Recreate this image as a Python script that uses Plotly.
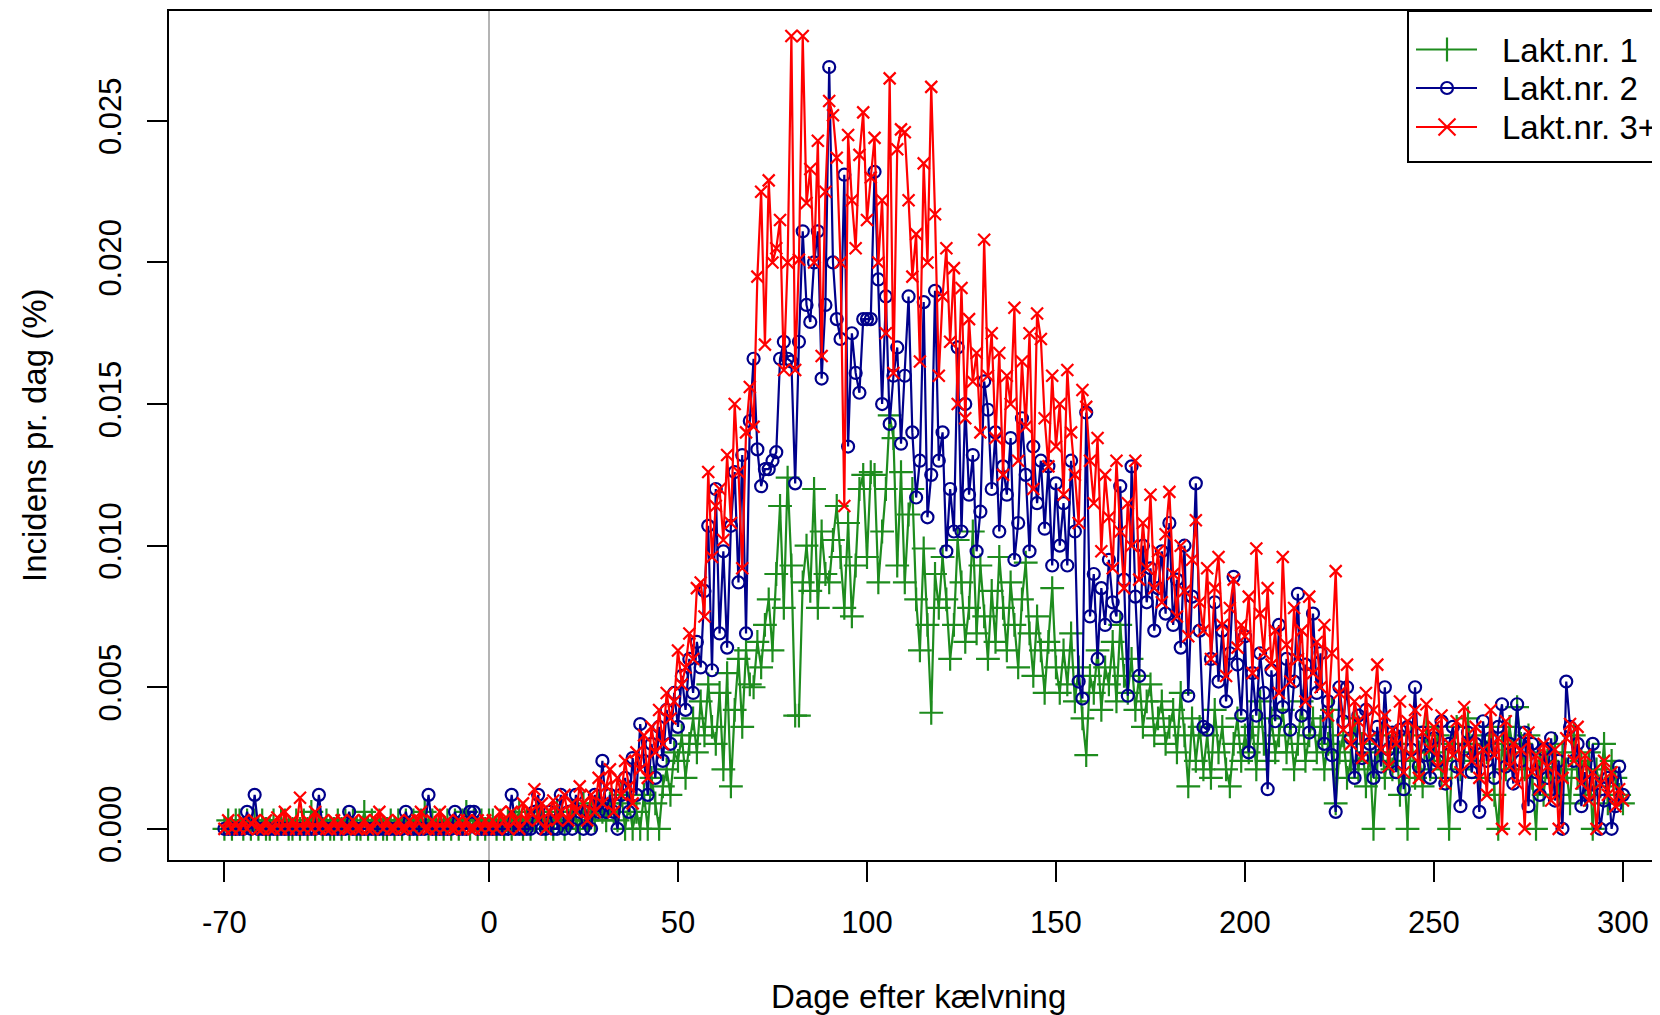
import plotly.graph_objects as go

# ---------------- data (incidence per day, %) ----------------
days = list(range(-70, 301))

lakt1 = [
    0.0000,0.0003,0.0000,0.0003,0.0003,0.0000,0.0003,0.0000,0.0003,0.0000,
    0.0003,0.0000,0.0000,0.0003,0.0000,0.0003,0.0003,0.0000,0.0000,0.0003,
    0.0000,0.0003,0.0000,0.0006,0.0000,0.0003,0.0000,0.0003,0.0000,0.0000,
    0.0003,0.0000,0.0003,0.0000,0.0003,0.0000,0.0000,0.0006,0.0000,0.0003,
    0.0000,0.0003,0.0000,0.0000,0.0003,0.0000,0.0003,0.0000,0.0003,0.0000,
    0.0003,0.0000,0.0003,0.0006,0.0000,0.0003,0.0000,0.0003,0.0000,0.0003,
    0.0000,0.0003,0.0000,0.0003,0.0006,0.0000,0.0003,0.0000,0.0003,0.0000,
    0.0003,0.0003,0.0000,0.0003,0.0000,0.0003,0.0000,0.0003,0.0006,0.0000,
    0.0003,0.0000,0.0003,0.0006,0.0003,0.0000,0.0003,0.0000,0.0006,0.0003,
    0.0000,0.0003,0.0006,0.0003,0.0000,0.0009,0.0003,0.0006,0.0003,0.0009,
    0.0006,0.0003,0.0009,0.0006,0.0003,0.0012,0.0000,0.0009,0.0000,0.0006,
    0.0000,0.0012,0.0000,0.0018,0.0009,0.0000,0.0015,0.0021,0.0012,0.0027,
    0.0024,0.0033,0.0018,0.0030,0.0039,0.0027,0.0045,0.0033,0.0051,0.0036,
    0.0030,0.0048,0.0021,0.0055,0.0015,0.0042,0.0060,0.0036,0.0063,0.0051,
    0.0050,0.0066,0.0057,0.0072,0.0081,0.0063,0.0090,0.0114,0.0078,0.0124,
    0.0093,0.0040,0.0040,0.0087,0.0100,0.0084,0.0120,0.0078,0.0105,0.0090,
    0.0087,0.0102,0.0114,0.0096,0.0078,0.0108,0.0075,0.0093,0.0120,0.0125,
    0.0096,0.0126,0.0125,0.0087,0.0105,0.0120,0.0146,0.0138,0.0093,0.0126,
    0.0087,0.0111,0.0120,0.0081,0.0063,0.0099,0.0072,0.0041,0.0090,0.0078,
    0.0096,0.0081,0.0060,0.0072,0.0102,0.0087,0.0066,0.0078,0.0105,0.0069,
    0.0093,0.0075,0.0060,0.0084,0.0066,0.0096,0.0078,0.0063,0.0087,0.0072,
    0.0057,0.0081,0.0094,0.0069,0.0054,0.0075,0.0063,0.0048,0.0066,0.0085,
    0.0057,0.0048,0.0063,0.0051,0.0069,0.0045,0.0057,0.0039,0.0026,0.0054,
    0.0048,0.0063,0.0042,0.0057,0.0051,0.0066,0.0045,0.0072,0.0054,0.0048,
    0.0060,0.0042,0.0054,0.0036,0.0045,0.0051,0.0033,0.0039,0.0045,0.0030,
    0.0036,0.0042,0.0027,0.0048,0.0033,0.0015,0.0039,0.0024,0.0036,0.0021,
    0.0033,0.0018,0.0042,0.0027,0.0036,0.0021,0.0015,0.0030,0.0039,0.0024,
    0.0033,0.0027,0.0036,0.0021,0.0045,0.0030,0.0024,0.0039,0.0027,0.0033,
    0.0042,0.0027,0.0036,0.0021,0.0030,0.0045,0.0024,0.0033,0.0039,0.0027,
    0.0036,0.0021,0.0030,0.0042,0.0009,0.0027,0.0033,0.0018,0.0024,0.0039,
    0.0021,0.0030,0.0015,0.0027,0.0000,0.0024,0.0033,0.0018,0.0027,0.0021,
    0.0030,0.0012,0.0024,0.0000,0.0033,0.0018,0.0027,0.0015,0.0036,0.0021,
    0.0027,0.0033,0.0018,0.0024,0.0000,0.0030,0.0036,0.0021,0.0027,0.0039,
    0.0024,0.0030,0.0018,0.0033,0.0027,0.0036,0.0012,0.0000,0.0030,0.0021,
    0.0036,0.0027,0.0043,0.0030,0.0021,0.0033,0.0018,0.0000,0.0027,0.0012,
    0.0024,0.0018,0.0030,0.0012,0.0027,0.0021,0.0009,0.0033,0.0018,0.0024,
    0.0012,0.0027,0.0000,0.0021,0.0015,0.0030,0.0009,0.0024,0.0018,0.0012,
    0.0009,
]

lakt2 = [
    0.0000,0.0000,0.0000,0.0000,0.0000,0.0000,0.0006,0.0000,0.0012,0.0000,
    0.0000,0.0000,0.0000,0.0000,0.0000,0.0000,0.0000,0.0000,0.0000,0.0000,
    0.0000,0.0000,0.0000,0.0000,0.0000,0.0012,0.0000,0.0000,0.0000,0.0000,
    0.0000,0.0000,0.0000,0.0006,0.0000,0.0000,0.0000,0.0000,0.0000,0.0000,
    0.0000,0.0000,0.0000,0.0000,0.0000,0.0000,0.0000,0.0000,0.0006,0.0000,
    0.0000,0.0000,0.0000,0.0000,0.0012,0.0000,0.0000,0.0000,0.0000,0.0000,
    0.0000,0.0006,0.0000,0.0000,0.0000,0.0006,0.0006,0.0000,0.0000,0.0000,
    0.0000,0.0000,0.0000,0.0000,0.0000,0.0000,0.0012,0.0000,0.0000,0.0000,
    0.0000,0.0000,0.0006,0.0012,0.0000,0.0000,0.0006,0.0000,0.0000,0.0012,
    0.0000,0.0006,0.0000,0.0012,0.0006,0.0000,0.0006,0.0000,0.0012,0.0006,
    0.0024,0.0006,0.0012,0.0006,0.0000,0.0012,0.0018,0.0006,0.0025,0.0012,
    0.0037,0.0024,0.0012,0.0030,0.0018,0.0036,0.0024,0.0042,0.0030,0.0048,
    0.0036,0.0054,0.0042,0.0060,0.0048,0.0066,0.0057,0.0084,0.0107,0.0056,
    0.0120,0.0069,0.0098,0.0064,0.0107,0.0126,0.0087,0.0132,0.0069,0.0144,
    0.0166,0.0134,0.0121,0.0127,0.0127,0.0130,0.0133,0.0166,0.0172,0.0166,
    0.0165,0.0122,0.0172,0.0211,0.0185,0.0179,0.0200,0.0211,0.0159,0.0185,
    0.0269,0.0200,0.0180,0.0173,0.0231,0.0135,0.0175,0.0161,0.0154,0.0180,
    0.0180,0.0180,0.0232,0.0194,0.0150,0.0188,0.0143,0.0160,0.0170,0.0136,
    0.0160,0.0188,0.0140,0.0117,0.0130,0.0186,0.0110,0.0125,0.0190,0.0130,
    0.0140,0.0098,0.0120,0.0105,0.0170,0.0105,0.0150,0.0118,0.0132,0.0098,
    0.0112,0.0158,0.0148,0.0120,0.0140,0.0105,0.0128,0.0118,0.0138,0.0095,
    0.0108,0.0145,0.0125,0.0098,0.0135,0.0115,0.0130,0.0106,0.0128,0.0093,
    0.0122,0.0100,0.0115,0.0093,0.0130,0.0105,0.0052,0.0046,0.0147,0.0075,
    0.0090,0.0060,0.0085,0.0072,0.0095,0.0080,0.0075,0.0121,0.0088,0.0047,
    0.0128,0.0082,0.0054,0.0100,0.0080,0.0092,0.0070,0.0085,0.0098,0.0076,
    0.0108,0.0072,0.0088,0.0064,0.0100,0.0047,0.0082,0.0122,0.0070,0.0036,
    0.0035,0.0060,0.0080,0.0052,0.0070,0.0045,0.0062,0.0089,0.0058,0.0040,
    0.0068,0.0027,0.0055,0.0040,0.0062,0.0048,0.0014,0.0056,0.0038,0.0072,
    0.0043,0.0060,0.0035,0.0052,0.0083,0.0040,0.0058,0.0034,0.0076,0.0048,
    0.0062,0.0030,0.0045,0.0026,0.0006,0.0050,0.0038,0.0050,0.0032,0.0018,
    0.0040,0.0025,0.0042,0.0030,0.0018,0.0036,0.0022,0.0050,0.0028,0.0034,
    0.0020,0.0035,0.0014,0.0036,0.0028,0.0050,0.0022,0.0034,0.0026,0.0018,
    0.0032,0.0024,0.0038,0.0016,0.0030,0.0036,0.0022,0.0008,0.0028,0.0034,
    0.0020,0.0030,0.0006,0.0038,0.0024,0.0032,0.0018,0.0036,0.0044,0.0022,
    0.0030,0.0016,0.0044,0.0024,0.0034,0.0008,0.0030,0.0020,0.0012,0.0028,
    0.0018,0.0032,0.0010,0.0024,0.0000,0.0052,0.0036,0.0024,0.0030,0.0008,
    0.0020,0.0012,0.0030,0.0016,0.0000,0.0010,0.0018,0.0000,0.0008,0.0022,
    0.0012,
]

lakt3 = [
    0.0000,0.0003,0.0000,0.0002,0.0000,0.0003,0.0000,0.0002,0.0003,0.0000,
    0.0000,0.0003,0.0000,0.0000,0.0004,0.0000,0.0006,0.0000,0.0003,0.0000,
    0.0011,0.0000,0.0003,0.0000,0.0006,0.0000,0.0003,0.0000,0.0000,0.0003,
    0.0000,0.0003,0.0000,0.0000,0.0003,0.0000,0.0000,0.0003,0.0000,0.0000,
    0.0003,0.0006,0.0000,0.0003,0.0000,0.0000,0.0003,0.0000,0.0000,0.0003,
    0.0000,0.0003,0.0006,0.0000,0.0000,0.0003,0.0000,0.0006,0.0000,0.0003,
    0.0000,0.0000,0.0003,0.0000,0.0003,0.0000,0.0000,0.0003,0.0000,0.0003,
    0.0000,0.0003,0.0000,0.0006,0.0003,0.0000,0.0006,0.0003,0.0000,0.0009,
    0.0003,0.0006,0.0014,0.0003,0.0009,0.0000,0.0006,0.0010,0.0003,0.0006,
    0.0012,0.0003,0.0009,0.0006,0.0015,0.0009,0.0003,0.0012,0.0006,0.0018,
    0.0009,0.0015,0.0021,0.0006,0.0018,0.0012,0.0024,0.0015,0.0009,0.0027,
    0.0021,0.0033,0.0018,0.0036,0.0027,0.0042,0.0030,0.0048,0.0039,0.0045,
    0.0063,0.0051,0.0057,0.0069,0.0060,0.0085,0.0087,0.0075,0.0126,0.0096,
    0.0114,0.0120,0.0102,0.0132,0.0108,0.0150,0.0126,0.0092,0.0140,0.0156,
    0.0142,0.0195,0.0225,0.0171,0.0229,0.0200,0.0205,0.0215,0.0162,0.0200,
    0.0280,0.0162,0.0201,0.0280,0.0221,0.0233,0.0200,0.0243,0.0167,0.0225,
    0.0257,0.0252,0.0237,0.0200,0.0114,0.0245,0.0222,0.0205,0.0238,0.0253,
    0.0215,0.0230,0.0244,0.0200,0.0222,0.0175,0.0265,0.0161,0.0240,0.0247,
    0.0246,0.0222,0.0195,0.0210,0.0165,0.0235,0.0200,0.0262,0.0217,0.0160,
    0.0188,0.0205,0.0172,0.0198,0.0150,0.0191,0.0145,0.0180,0.0158,0.0168,
    0.0140,0.0208,0.0160,0.0175,0.0138,0.0168,0.0125,0.0160,0.0150,0.0184,
    0.0130,0.0165,0.0142,0.0175,0.0120,0.0182,0.0173,0.0145,0.0128,0.0160,
    0.0135,0.0150,0.0118,0.0162,0.0140,0.0125,0.0108,0.0155,0.0149,0.0130,
    0.0115,0.0138,0.0098,0.0125,0.0110,0.0092,0.0130,0.0105,0.0085,0.0115,
    0.0100,0.0130,0.0088,0.0108,0.0092,0.0118,0.0085,0.0098,0.0080,0.0104,
    0.0119,0.0090,0.0075,0.0100,0.0084,0.0068,0.0095,0.0109,0.0080,0.0070,
    0.0092,0.0060,0.0085,0.0096,0.0072,0.0054,0.0078,0.0088,0.0064,0.0072,
    0.0068,0.0082,0.0055,0.0099,0.0076,0.0062,0.0085,0.0058,0.0070,0.0048,
    0.0096,0.0065,0.0052,0.0078,0.0060,0.0070,0.0045,0.0082,0.0055,0.0066,
    0.0050,0.0072,0.0040,0.0062,0.0091,0.0048,0.0035,0.0058,0.0030,0.0045,
    0.0038,0.0025,0.0048,0.0032,0.0042,0.0058,0.0028,0.0040,0.0022,0.0035,
    0.0030,0.0045,0.0020,0.0038,0.0026,0.0042,0.0018,0.0034,0.0044,0.0028,
    0.0036,0.0022,0.0040,0.0016,0.0030,0.0026,0.0038,0.0020,0.0043,0.0030,
    0.0024,0.0036,0.0018,0.0028,0.0012,0.0042,0.0026,0.0032,0.0000,0.0038,
    0.0022,0.0030,0.0016,0.0028,0.0000,0.0034,0.0020,0.0026,0.0014,0.0030,
    0.0022,0.0010,0.0028,0.0000,0.0018,0.0032,0.0037,0.0024,0.0036,0.0016,
    0.0026,0.0010,0.0020,0.0000,0.0016,0.0024,0.0012,0.0020,0.0008,0.0014,
    0.0010,
]

series_names = ["Lakt.nr. 1", "Lakt.nr. 2", "Lakt.nr. 3+"]
x_tick_vals = [-70, 0, 50, 100, 150, 200, 250, 300]
x_tick_text = ["-70", "0", "50", "100", "150", "200", "250", "300"]
y_tick_vals = [0.000, 0.005, 0.010, 0.015, 0.020, 0.025]
y_tick_text = ["0.000", "0.005", "0.010", "0.015", "0.020", "0.025"]

# ---------------- styling ----------------
OFF = 8                      # page body margin in the browser
W, H = 1660 - OFF, 1015 - OFF
ML, MR, MT, MB = 169 - OFF, 0, 11 - OFF, H - (860 - OFF)
PW, PH = W - ML - MR, H - MT - MB
FONT = "Liberation Sans, Arial, sans-serif"
FS_TICK = 31
FS_TEXT = 33

colors = ["#1e8c1e", "#00008b", "#ff0000"]
symbols = ["cross-thin-open", "circle-open", "x-thin-open"]
msizes = [17, 12, 12]

fig = go.Figure()
for name, vals, col, sym, ms in zip(series_names, [lakt1, lakt2, lakt3], colors, symbols, msizes):
    fig.add_trace(go.Scatter(
        x=days, y=vals, name=name, mode="lines+markers",
        line=dict(color=col, width=2.2),
        marker=dict(symbol=sym, size=ms, color=col, line=dict(color=col, width=2.2)),
        showlegend=False,
    ))


def px_x(p):
    """screen x (page pixels) -> paper coordinate"""
    return (p - OFF - ML) / PW


def px_y(p):
    """screen y (page pixels) -> paper coordinate"""
    return (H - MB - (p - OFF)) / PH


shapes = []
shapes.append(dict(type="line", xref="x", yref="paper", x0=0, x1=0, y0=0, y1=1,
                   line=dict(color="#b4b4b4", width=2), layer="below"))

# legend box (its right side runs off the canvas as in the original)
shapes.append(dict(type="rect", xref="paper", yref="paper",
                   x0=px_x(1408), x1=px_x(1700), y0=px_y(162), y1=px_y(11),
                   line=dict(color="black", width=2), fillcolor="white", layer="above"))

leg_y = [49.5, 88, 127]
lx0, lx1, mx = 1416, 1477, 1447
annotations = []
for i, (name, col) in enumerate(zip(series_names, colors)):
    yy = leg_y[i]
    shapes.append(dict(type="line", xref="paper", yref="paper",
                       x0=px_x(lx0), x1=px_x(lx1), y0=px_y(yy), y1=px_y(yy),
                       line=dict(color=col, width=2.2), layer="above"))
    if i == 0:
        shapes.append(dict(type="line", xref="paper", yref="paper",
                           x0=px_x(mx), x1=px_x(mx), y0=px_y(yy - 12), y1=px_y(yy + 12),
                           line=dict(color=col, width=2.2), layer="above"))
    elif i == 1:
        shapes.append(dict(type="circle", xref="paper", yref="paper",
                           x0=px_x(mx - 6), x1=px_x(mx + 6), y0=px_y(yy + 6), y1=px_y(yy - 6),
                           line=dict(color=col, width=2.2), layer="above"))
    else:
        for s in (1, -1):
            shapes.append(dict(type="line", xref="paper", yref="paper",
                               x0=px_x(mx - 8.5), x1=px_x(mx + 8.5),
                               y0=px_y(yy - 8.5 * s), y1=px_y(yy + 8.5 * s),
                               line=dict(color=col, width=2.2), layer="above"))
    annotations.append(dict(text=name, xref="paper", yref="paper", x=px_x(1500), y=px_y(yy + 1),
                            xanchor="left", yanchor="middle", showarrow=False,
                            font=dict(family=FONT, size=FS_TEXT, color="black")))

# axis titles
annotations.append(dict(text="Dage efter kælvning", xref="paper", yref="paper",
                        x=px_x(918), y=px_y(996), xanchor="center", yanchor="middle",
                        showarrow=False, font=dict(family=FONT, size=FS_TEXT, color="black")))
annotations.append(dict(text="Incidens pr. dag (%)", xref="paper", yref="paper",
                        x=px_x(34), y=px_y(435), xanchor="center", yanchor="middle",
                        textangle=-90, showarrow=False,
                        font=dict(family=FONT, size=FS_TEXT, color="black")))

fig.update_layout(
    width=W, height=H,
    margin=dict(l=ML, r=MR, t=MT, b=MB, pad=0),
    paper_bgcolor="white", plot_bgcolor="white",
    font=dict(family=FONT, size=FS_TICK, color="black"),
    showlegend=False,
    shapes=shapes, annotations=annotations,
    xaxis=dict(range=[-84.66, 309.8], tickmode="array", tickvals=x_tick_vals,
               ticktext=x_tick_text,
               ticks="outside", ticklen=20, tickwidth=2, tickcolor="black",
               showgrid=False, zeroline=False, showline=True, linecolor="black",
               linewidth=2, mirror=True, ticklabelstandoff=14,
               tickfont=dict(family=FONT, size=FS_TICK, color="black")),
    yaxis=dict(range=[-0.0011, 0.02888], tickmode="array", tickvals=y_tick_vals,
               ticktext=y_tick_text, tickangle=-90,
               ticks="outside", ticklen=20, tickwidth=2, tickcolor="black",
               showgrid=False, zeroline=False, showline=True, linecolor="black",
               linewidth=2, mirror=False, ticklabelstandoff=14,
               tickfont=dict(family=FONT, size=FS_TICK, color="black")),
)

fig.write_html("out.html")
